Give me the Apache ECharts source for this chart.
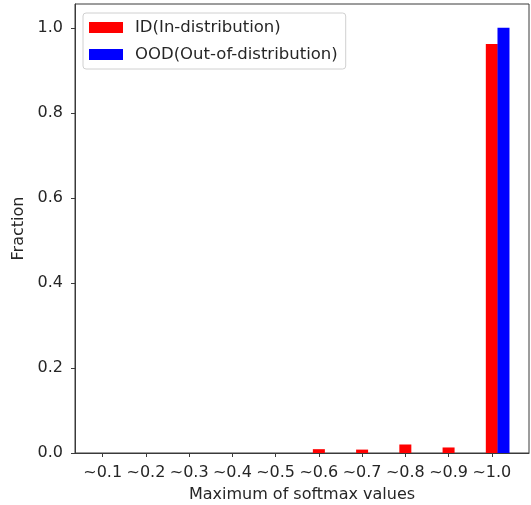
<!DOCTYPE html>
<html>
<head>
<meta charset="utf-8">
<script src="https://cdn.jsdelivr.net/npm/echarts@6/dist/echarts.min.js"></script>
<style>
  html, body { margin: 0; padding: 0; background: #fff; }
  #chart { width: 531px; height: 505px; }
</style>
</head>
<body>
<div id="chart"></div>
<script>
const tickLabels = ['~0.1', '~0.2', '~0.3', '~0.4', '~0.5', '~0.6', '~0.7', '~0.8', '~0.9', '~1.0']
const idValues = [0, 0, 0, 0, 0, 0.009, 0.008, 0.02, 0.013, 0.962]
const oodValues = [0, 0, 0, 0, 0, 0, 0, 0, 0, 1.0]
const yTicks = [0, 0.2, 0.4, 0.6, 0.8, 1.0]

// same as matplotlib: bar(x, id, w) and bar(x + w, ood, w)
const barShift = 0.27
const positions = tickLabels.map((_, i) => i)

const font = 'DejaVu Sans'
const textColor = '#262626'
const lineColor = '#3a3a3a'

const chart = echarts.init(document.getElementById('chart'))

chart.setOption({
  animation: false,
  textStyle: { fontFamily: font },
  grid: {
    left: 75,
    right: 2,
    top: 4,
    bottom: 52,
    outerBoundsMode: 'none',
    show: true,
    borderColor: lineColor,
    borderWidth: 1,
    backgroundColor: 'transparent'
  },
  legend: {
    orient: 'vertical',
    left: 83,
    top: 13,
    padding: [6, 8, 6, 6],
    itemWidth: 34,
    itemHeight: 11,
    itemGap: 10,
    backgroundColor: '#fff',
    borderColor: '#d0d0d0',
    borderWidth: 1,
    borderRadius: 3,
    textStyle: {
      fontFamily: font,
      fontSize: 16.5,
      lineHeight: 16,
      color: textColor,
      padding: [0, 0, 0, 7]
    },
    data: [
      { name: 'ID(In-distribution)', icon: 'rect' },
      { name: 'OOD(Out-of-distribution)', icon: 'rect' }
    ]
  },
  xAxis: {
    type: 'value',
    min: -0.64,
    max: 9.86,
    name: 'Maximum of softmax values',
    nameLocation: 'middle',
    nameGap: 34,
    nameTextStyle: { fontFamily: font, fontSize: 16, color: textColor },
    splitLine: { show: false },
    axisLine: { show: true, onZero: false, lineStyle: { color: lineColor, width: 1 } },
    axisTick: {
      show: true,
      inside: false,
      length: 4,
      customValues: positions,
      lineStyle: { color: lineColor }
    },
    axisLabel: {
      customValues: positions,
      margin: 12,
      fontSize: 16,
      color: textColor,
      formatter: v => tickLabels[Math.round(v)]
    }
  },
  yAxis: {
    type: 'value',
    min: 0,
    max: 1.056,
    name: 'Fraction',
    nameLocation: 'middle',
    nameGap: 46,
    nameTextStyle: { fontFamily: font, fontSize: 16, color: textColor },
    splitLine: { show: false },
    axisLine: { show: true, onZero: false, lineStyle: { color: lineColor, width: 1 } },
    axisTick: {
      show: true,
      inside: false,
      length: 4,
      customValues: yTicks,
      lineStyle: { color: lineColor }
    },
    axisLabel: {
      customValues: yTicks,
      margin: 12,
      fontSize: 16,
      color: textColor,
      formatter: v => v.toFixed(1)
    }
  },
  series: [
    {
      name: 'ID(In-distribution)',
      type: 'bar',
      barWidth: 12,
      barGap: '-100%',
      itemStyle: { color: '#ff0000' },
      data: idValues.map((v, i) => [positions[i], v])
    },
    {
      name: 'OOD(Out-of-distribution)',
      type: 'bar',
      barWidth: 12,
      barGap: '-100%',
      itemStyle: { color: '#0000ff' },
      data: oodValues.map((v, i) => [positions[i] + barShift, v])
    }
  ]
})
</script>
</body>
</html>
